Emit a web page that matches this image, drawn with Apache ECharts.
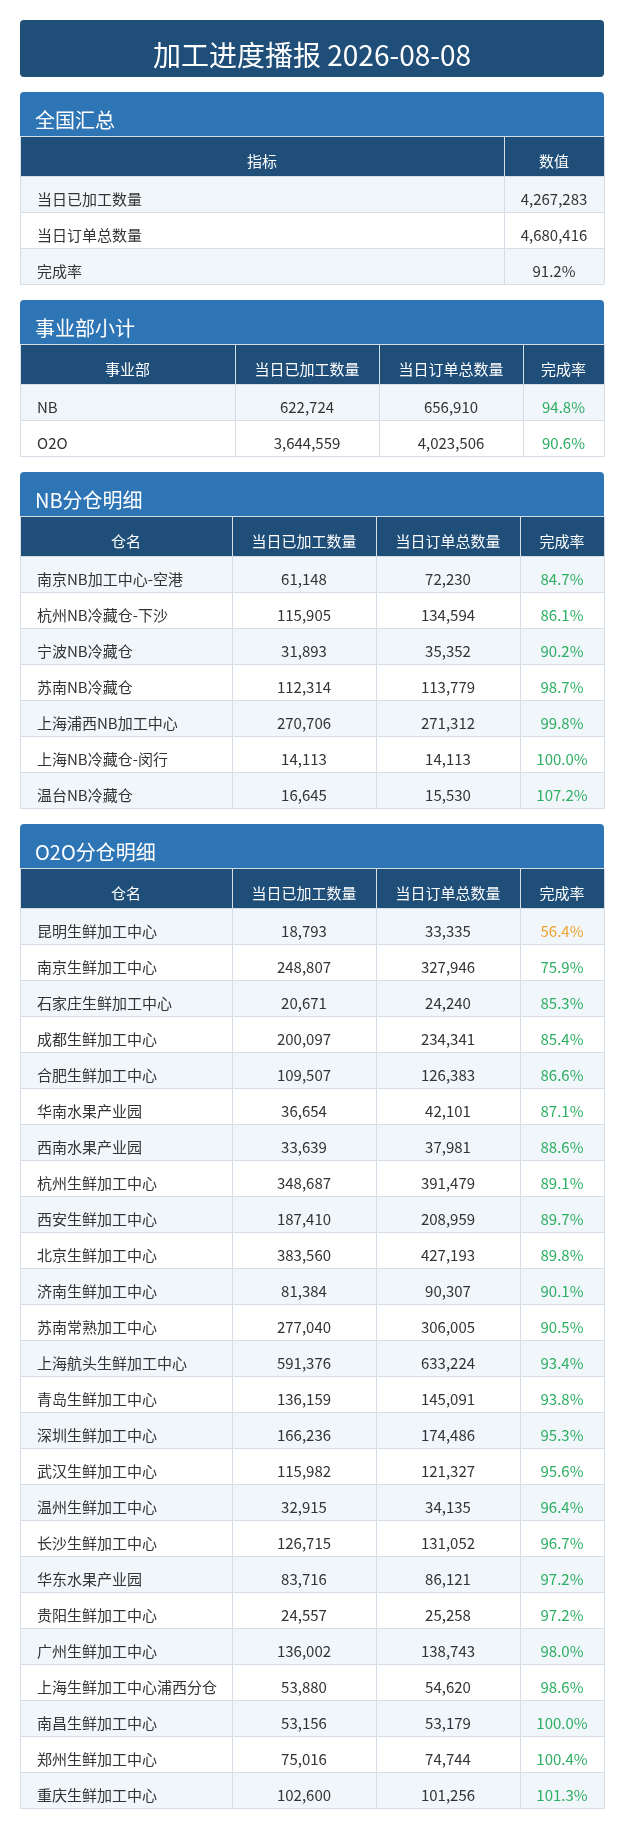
<!DOCTYPE html>
<html>
<head>
<meta charset="utf-8">
<title>加工进度播报</title>
<script src="https://cdn.jsdelivr.net/npm/echarts@6/dist/echarts.min.js"></script>
<style>
    html, body { margin: 0; padding: 0; background: #fff; }
    #main { width: 623px; height: 1828px; }
</style>
</head>
<body>
<div id="main"></div>
<script>
var reportTitle = '加工进度播报 2026-08-08';

var summaryNames = ['当日已加工数量', '当日订单总数量', '完成率'];
var summaryValues = [4267283, 4680416, 91.2];

var deptNames = ['NB', 'O2O'];
var deptDone = [622724, 3644559];
var deptOrder = [656910, 4023506];
var deptRate = [94.8, 90.6];

var nbNames = ['南京NB加工中心-空港', '杭州NB冷藏仓-下沙', '宁波NB冷藏仓', '苏南NB冷藏仓',
    '上海浦西NB加工中心', '上海NB冷藏仓-闵行', '温台NB冷藏仓'];
var nbDone = [61148, 115905, 31893, 112314, 270706, 14113, 16645];
var nbOrder = [72230, 134594, 35352, 113779, 271312, 14113, 15530];
var nbRate = [84.7, 86.1, 90.2, 98.7, 99.8, 100.0, 107.2];

var o2oNames = ['昆明生鲜加工中心', '南京生鲜加工中心', '石家庄生鲜加工中心', '成都生鲜加工中心',
    '合肥生鲜加工中心', '华南水果产业园', '西南水果产业园', '杭州生鲜加工中心', '西安生鲜加工中心',
    '北京生鲜加工中心', '济南生鲜加工中心', '苏南常熟加工中心', '上海航头生鲜加工中心',
    '青岛生鲜加工中心', '深圳生鲜加工中心', '武汉生鲜加工中心', '温州生鲜加工中心',
    '长沙生鲜加工中心', '华东水果产业园', '贵阳生鲜加工中心', '广州生鲜加工中心',
    '上海生鲜加工中心浦西分仓', '南昌生鲜加工中心', '郑州生鲜加工中心', '重庆生鲜加工中心'];
var o2oDone = [18793, 248807, 20671, 200097, 109507, 36654, 33639, 348687, 187410,
    383560, 81384, 277040, 591376, 136159, 166236, 115982, 32915,
    126715, 83716, 24557, 136002, 53880, 53156, 75016, 102600];
var o2oOrder = [33335, 327946, 24240, 234341, 126383, 42101, 37981, 391479, 208959,
    427193, 90307, 306005, 633224, 145091, 174486, 121327, 34135,
    131052, 86121, 25258, 138743, 54620, 53179, 74744, 101256];
var o2oRate = [56.4, 75.9, 85.3, 85.4, 86.6, 87.1, 88.6, 89.1, 89.7,
    89.8, 90.1, 90.5, 93.4, 93.8, 95.3, 95.6, 96.4,
    96.7, 97.2, 97.2, 98.0, 98.6, 100.0, 100.4, 101.3];

var deptHeads = ['事业部', '当日已加工数量', '当日订单总数量', '完成率'];
var storeHeads = ['仓名', '当日已加工数量', '当日订单总数量', '完成率'];

var FONT = '"Noto Sans CJK SC", "Noto Sans", sans-serif';
var DARK = '#1F4E79';
var BLUE = '#2E75B6';
var LINE = '#D5DDE7';
var STRIPE = '#F1F6FB';

function fmt(n) {
    return n.toLocaleString('en-US');
}

function pct(n) {
    return n.toFixed(1) + '%';
}

function rateColor(n) {
    return n < 60 ? '#F0A32F' : '#2DAE62';
}

// each table: section bar on top, header row, then body rows
var tables = [
    {
        name: '全国汇总', top: 92, edges: [0, 484, 584],
        heads: ['指标', '数值'],
        rows: summaryNames.map(function (n, i) {
            var v = i < 2 ? fmt(summaryValues[i]) : pct(summaryValues[i]);
            return [{text: n}, {text: v}];
        })
    },
    {
        name: '事业部小计', top: 300, edges: [0, 215, 359, 503, 584],
        heads: deptHeads,
        rows: deptNames.map(function (n, i) {
            return [{text: n}, {text: fmt(deptDone[i])}, {text: fmt(deptOrder[i])},
                {text: pct(deptRate[i]), color: rateColor(deptRate[i])}];
        })
    },
    {
        name: 'NB分仓明细', top: 472, edges: [0, 212, 356, 500, 584],
        heads: storeHeads,
        rows: nbNames.map(function (n, i) {
            return [{text: n}, {text: fmt(nbDone[i])}, {text: fmt(nbOrder[i])},
                {text: pct(nbRate[i]), color: rateColor(nbRate[i])}];
        })
    },
    {
        name: 'O2O分仓明细', top: 824, edges: [0, 212, 356, 500, 584],
        heads: storeHeads,
        rows: o2oNames.map(function (n, i) {
            return [{text: n}, {text: fmt(o2oDone[i])}, {text: fmt(o2oOrder[i])},
                {text: pct(o2oRate[i]), color: rateColor(o2oRate[i])}];
        })
    }
];

var SECTION_H = 44;
var HEAD_H = 40;
var ROW_H = 36;

var grids = [], xAxes = [], yAxes = [], series = [];
var graphics = [{
    type: 'rect',
    shape: {x: 20, y: 20, width: 584, height: 57, r: 4},
    style: {fill: DARK},
    textContent: {
        style: {text: reportTitle, fill: '#fff', font: '28px ' + FONT}
    },
    textConfig: {position: 'inside', offset: [0, 7]}
}];

function cellRenderer(edges, cells, isHead) {
    return function (params, api) {
        var c = api.value(0);
        var r = api.value(1);
        var p0 = api.coord([edges[c], r]);
        var p1 = api.coord([edges[c + 1], r]);
        var h = api.size([0, 1])[1];
        var x0 = Math.round(p0[0]);
        var y0 = Math.round(p0[1] - h / 2);
        var w = Math.round(p1[0]) - x0;
        var cell = cells[params.dataIndex];
        var fill = isHead ? DARK : (r % 2 === 0 ? STRIPE : '#fff');
        var left = c === 0 && !isHead;
        return {
            type: 'group',
            children: [{
                type: 'rect',
                shape: {x: x0 + 0.5, y: y0 + 0.5, width: w, height: h},
                style: {fill: fill, stroke: LINE, lineWidth: 1}
            }, {
                type: 'text',
                x: left ? x0 + 17 : x0 + w / 2,
                y: y0 + h / 2 + 5,
                style: {
                    text: cell.text,
                    fill: isHead ? '#fff' : (cell.color || '#333'),
                    font: '15px ' + FONT,
                    align: left ? 'left' : 'center',
                    verticalAlign: 'middle'
                }
            }]
        };
    };
}

tables.forEach(function (t) {
    var headTop = t.top + SECTION_H;
    var bodyTop = headTop + HEAD_H;
    var total = t.edges[t.edges.length - 1];

    graphics.push({
        type: 'rect',
        shape: {x: 20, y: t.top, width: 584, height: SECTION_H, r: [4, 4, 0, 0]},
        style: {fill: BLUE}
    });
    graphics.push({
        type: 'text',
        x: 35,
        y: t.top + 28.5,
        style: {text: t.name, fill: '#fff', font: '20px ' + FONT, verticalAlign: 'middle'}
    });

    // header row grid
    var hi = grids.length;
    grids.push({left: 20, top: headTop, width: total, height: HEAD_H});
    xAxes.push({type: 'value', gridIndex: hi, min: 0, max: total, show: false});
    yAxes.push({type: 'category', gridIndex: hi, data: ['head'], show: false});
    var headCells = t.heads.map(function (h) { return {text: h}; });
    series.push({
        type: 'custom',
        xAxisIndex: hi, yAxisIndex: hi,
        clip: false, silent: true,
        renderItem: cellRenderer(t.edges, headCells, true),
        data: t.heads.map(function (h, c) { return [c, 0]; })
    });

    // body grid, one category per row
    var bi = grids.length;
    grids.push({left: 20, top: bodyTop, width: total, height: t.rows.length * ROW_H});
    xAxes.push({type: 'value', gridIndex: bi, min: 0, max: total, show: false});
    yAxes.push({
        type: 'category', gridIndex: bi, inverse: true, show: false,
        data: t.rows.map(function (row) { return row[0].text; })
    });
    var bodyCells = [], bodyData = [];
    t.rows.forEach(function (row, r) {
        row.forEach(function (cell, c) {
            bodyCells.push(cell);
            bodyData.push([c, r]);
        });
    });
    series.push({
        type: 'custom',
        xAxisIndex: bi, yAxisIndex: bi,
        clip: false, silent: true,
        renderItem: cellRenderer(t.edges, bodyCells, false),
        data: bodyData
    });
});

var chart = echarts.init(document.getElementById('main'), null, {renderer: 'canvas'});
chart.setOption({
    animation: false,
    backgroundColor: '#fff',
    textStyle: {fontFamily: FONT},
    grid: grids,
    xAxis: xAxes,
    yAxis: yAxes,
    graphic: graphics,
    series: series
});
</script>
</body>
</html>
